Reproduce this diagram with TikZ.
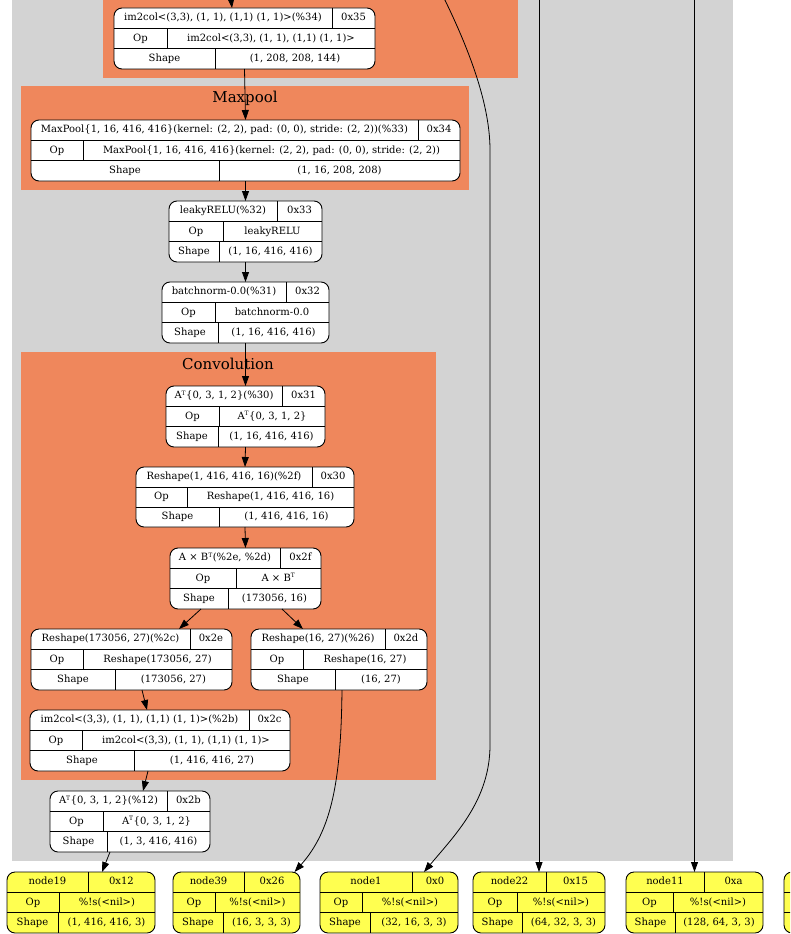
\documentclass[tikz,border=0pt]{standalone}
\usepackage{fontspec}
\setmainfont{DejaVu Serif}
\usetikzlibrary{arrows.meta}
\definecolor{clgray}{RGB}{211,211,211}
\definecolor{clorange}{RGB}{239,135,92}
\definecolor{nyellow}{RGB}{255,255,80}
\tikzset{
  recbox/.style={draw=black, line width=0.9pt, rounded corners=8pt, fill=#1, inner sep=0pt, outer sep=0pt},
  sepline/.style={line width=0.75pt, draw=black},
  txt/.style={font=\fontsize{10}{11}\selectfont, inner sep=0pt, text height=7.2pt, text depth=2pt},
  cltitle/.style={font=\fontsize{15}{17}\selectfont, inner sep=0pt},
  edgearrow/.style={line width=0.8pt, draw=black, -{Triangle[length=10pt,width=7pt]}},
  graycl/.style={fill=clgray, draw=none},
  orangecl/.style={fill=clorange, draw=none},
}
\newcommand\rec[6]{%
  \def\rn{#1}\def\rl{#2}\def\rt{#3}\def\rr{#4}\def\rb{#5}%
  \pgfmathsetmacro\rw{#4-#2}\pgfmathsetmacro\rh{#5-#3}%
  \node[recbox=#6, minimum width=\rw pt, minimum height=\rh pt] (#1) at ({(#2+#4)/2},{(#3+#5)/2}) {};}
\newcommand\rrows[9]{%
  \pgfmathsetmacro\ya{\rt+(\rb-\rt)/3}%
  \pgfmathsetmacro\yb{\rt+2*(\rb-\rt)/3}%
  \draw[sepline] (\rl,\ya) -- (\rr,\ya) (\rl,\yb) -- (\rr,\yb)
     (#1,\rt) -- (#1,\ya) (#2,\ya) -- (#2,\yb) (#3,\yb) -- (#3,\rb);
  \node[txt] (\rn-a1) at ({(\rl+#1)/2},{(\rt+\ya)/2}) {#4};
  \node[txt] (\rn-b1) at ({(\rr+#1)/2},{(\rt+\ya)/2}) {#5};
  \node[txt] (\rn-a2) at ({(\rl+#2)/2},{(\ya+\yb)/2}) {#6};
  \node[txt] (\rn-b2) at ({(\rr+#2)/2},{(\ya+\yb)/2}) {#7};
  \node[txt] (\rn-a3) at ({(\rl+#3)/2},{(\yb+\rb)/2}) {#8};
  \node[txt] (\rn-b3) at ({(\rr+#3)/2},{(\yb+\rb)/2}) {#9};}
\newcommand\AT{A\textsuperscript{\fontsize{6}{6}\selectfont T}}
\begin{document}
\begin{tikzpicture}[x=1pt,y=-1pt]
\useasboundingbox (0,0) rectangle (790,934);
\clip (0,0) rectangle (790,934);
\fill[white] (0,0) rectangle (790,934);
% clusters
\fill[graycl] (12,-5) rectangle (733,861);
\fill[orangecl] (103,-5) rectangle (518,78);
\fill[orangecl] (21,86) rectangle (469,190);
\fill[orangecl] (21,352) rectangle (436,780);
\node[cltitle] (tmax) at (245,98) {Maxpool};
\node[cltitle] (tconv) at (228,364) {Convolution};
% records
\rec{im34}{114}{8}{375}{69}{white}
\rrows{332}{167}{215}{im2col<(3,3), (1, 1), (1,1) (1, 1)>(\%34)}{0x35}{Op}{im2col<(3,3), (1, 1), (1,1) (1, 1)>}{Shape}{(1, 208, 208, 144)}
\rec{mp33}{31}{120}{460}{181}{white}
\rrows{418}{83}{219}{MaxPool\{1, 16, 416, 416\}(kernel: (2, 2), pad: (0, 0), stride: (2, 2))(\%33)}{0x34}{Op}{MaxPool\{1, 16, 416, 416\}(kernel: (2, 2), pad: (0, 0), stride: (2, 2))}{Shape}{(1, 16, 208, 208)}
\rec{lr32}{169}{201}{322}{262}{white}
\rrows{277}{223}{219}{leakyRELU(\%32)}{0x33}{Op}{leakyRELU}{Shape}{(1, 16, 416, 416)}
\rec{bn31}{162}{282}{329}{343}{white}
\rrows{286}{215}{218}{batchnorm-0.0(\%31)}{0x32}{Op}{batchnorm-0.0}{Shape}{(1, 16, 416, 416)}
\rec{at30}{166}{386}{325}{447}{white}
\rrows{282}{219}{218}{\AT\{0, 3, 1, 2\}(\%30)}{0x31}{Op}{\AT\{0, 3, 1, 2\}}{Shape}{(1, 16, 416, 416)}
\rec{rs2f}{136}{467}{354}{527}{white}
\rrows{312}{187}{219}{Reshape(1, 416, 416, 16)(\%2f)}{0x30}{Op}{Reshape(1, 416, 416, 16)}{Shape}{(1, 416, 416, 16)}
\rec{axb}{170}{548}{321}{609}{white}
\rrows{280}{236}{228}{A × B\textsuperscript{\fontsize{6}{6}\selectfont T}(\%2e, \%2d)}{0x2f}{Op}{A × B\textsuperscript{\fontsize{6}{6}\selectfont T}}{Shape}{(173056, 16)}
\rec{rs2c}{31}{629}{232}{690}{white}
\rrows{190}{83}{115}{Reshape(173056, 27)(\%2c)}{0x2e}{Op}{Reshape(173056, 27)}{Shape}{(173056, 27)}
\rec{rs26}{251}{629}{427}{690}{white}
\rrows{385}{303}{335}{Reshape(16, 27)(\%26)}{0x2d}{Op}{Reshape(16, 27)}{Shape}{(16, 27)}
\rec{im2b}{30}{710}{290}{771}{white}
\rrows{249}{82}{134}{im2col<(3,3), (1, 1), (1,1) (1, 1)>(\%2b)}{0x2c}{Op}{im2col<(3,3), (1, 1), (1,1) (1, 1)>}{Shape}{(1, 416, 416, 27)}
\rec{at12}{50}{791}{210}{852}{white}
\rrows{167}{103}{107}{\AT\{0, 3, 1, 2\}(\%12)}{0x2b}{Op}{\AT\{0, 3, 1, 2\}}{Shape}{(1, 3, 416, 416)}
% bottom yellow nodes
\rec{n19}{7}{872}{155}{933}{nyellow}
\rrows{88}{59}{58}{node19}{0x12}{Op}{\%!s(<nil>)}{Shape}{(1, 416, 416, 3)}
\rec{n39}{173}{872}{300}{933}{nyellow}
\rrows{244}{215}{223}{node39}{0x26}{Op}{\%!s(<nil>)}{Shape}{(16, 3, 3, 3)}
\rec{n1}{320}{872}{458}{933}{nyellow}
\rrows{412}{362}{370}{node1}{0x0}{Op}{\%!s(<nil>)}{Shape}{(32, 16, 3, 3)}
\rec{n22}{473}{872}{605}{933}{nyellow}
\rrows{546}{517}{522}{node22}{0x15}{Op}{\%!s(<nil>)}{Shape}{(64, 32, 3, 3)}
\rec{n11}{626}{872}{763}{933}{nyellow}
\rrows{704}{673}{675}{node11}{0xa}{Op}{\%!s(<nil>)}{Shape}{(128, 64, 3, 3)}
\node[recbox=nyellow, minimum width=150pt, minimum height=61pt] (nx) at (859,902.5) {};
\draw[sepline] (784,892.3) -- (nx.east |- 0,892.3) (784,912.7) -- (nx.east |- 0,912.7);
% free ends
\coordinate (top34) at (230,-10);
\coordinate (top1) at (440,-10);
\coordinate (top22) at (539,-10);
\coordinate (top11) at (694.5,-10);
% edges
\draw[edgearrow] (top34) -- ([xshift=-12.5pt]im34.north);
\draw[edgearrow] (im34.south) -- (mp33.north);
\draw[edgearrow] (mp33.south) -- (lr32.north);
\draw[edgearrow] (lr32.south) -- (bn31.north);
\draw[edgearrow] (bn31.south) -- (at30.north);
\draw[edgearrow] (at30.south) -- (rs2f.north);
\draw[edgearrow] (rs2f.south) -- (axb.north);
\draw[edgearrow] ([xshift=-44.5pt]axb.south) -- ([xshift=47.5pt]rs2c.north);
\draw[edgearrow] ([xshift=36.5pt]axb.south) -- ([xshift=-36pt]rs26.north);
\draw[edgearrow] ([xshift=10.5pt]rs2c.south) -- ([xshift=-13pt]im2b.north);
\draw[edgearrow] ([xshift=-12pt]im2b.south) -- ([xshift=13pt]at12.north);
\draw[edgearrow] ([xshift=-20pt]at12.south) -- ([xshift=21pt]n19.north);
\draw[edgearrow] ([xshift=3pt]rs26.south) .. controls (341,780) and (332,830) .. ([xshift=58pt]n39.north);
\draw[edgearrow] (top1) .. controls (465,40) and (490,100) .. (490,150) -- (490,745) .. controls (490,800) and (455,835) .. ([xshift=35pt]n1.north);
\draw[edgearrow] (top22) -- (n22.north);
\draw[edgearrow] (top11) -- (n11.north);
\end{tikzpicture}
\end{document}
